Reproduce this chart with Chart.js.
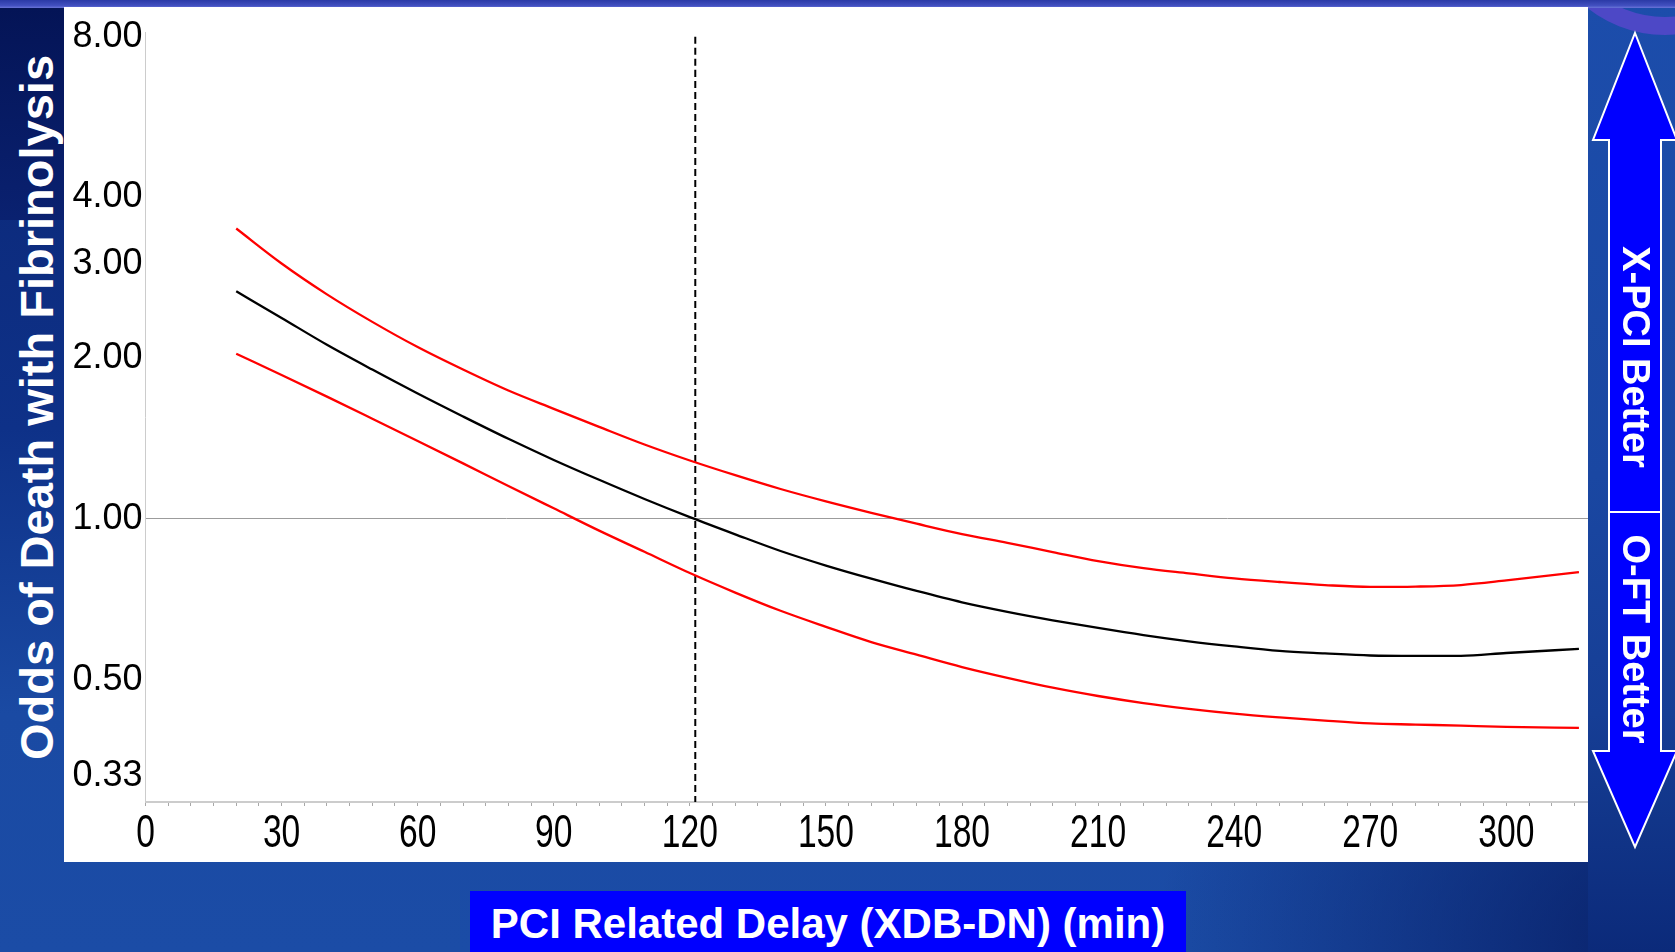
<!DOCTYPE html>
<html>
<head>
<meta charset="utf-8">
<script src="https://cdn.jsdelivr.net/npm/chart.js@4.4.1/dist/chart.umd.min.js"></script>
<style>
html,body{margin:0;padding:0;width:1675px;height:952px;overflow:hidden;}
body{position:relative;font-family:"Liberation Sans",Arial,sans-serif;
  background:
    radial-gradient(ellipse 520px 420px at 1675px 952px, rgba(5,25,95,0.85), rgba(5,25,95,0) 100%),
    linear-gradient(180deg,#0b2674 0%,#0e3188 45%,#1a4aa3 75%,#1b4ca6 100%);}
#topstrip{position:absolute;left:0;top:0;width:1675px;height:8px;
  background:linear-gradient(180deg,#2b3aa6 0%,#4250c0 70%,#6a74d8 100%);}
#tl{position:absolute;left:0;top:8px;width:64px;height:212px;background:linear-gradient(180deg,#041456,#0a2170);}
#rightcol{position:absolute;left:1588px;top:0;width:87px;height:952px;
  background:linear-gradient(180deg,#1c4dab 0%,#1a47a2 50%,#163e95 75%,#0b2a7a 100%);}
#ring{position:absolute;left:1540px;top:-215px;width:250px;height:250px;border-radius:50%;
  border:18px solid #4d48c6;box-sizing:border-box;}
#panel{position:absolute;left:64px;top:7px;width:1524px;height:855px;background:#ffffff;}
#panel canvas{position:absolute;left:0;top:0;}
#ytitle{position:absolute;left:-313px;top:385px;width:700px;height:50px;line-height:50px;
  text-align:center;color:#fff;font-weight:bold;font-size:47px;white-space:nowrap;
  transform:rotate(-90deg);transform-origin:50% 50%;}
#xtitle{position:absolute;left:470px;top:891px;width:716px;height:61px;background:#0000ff;}
#xtitle div{position:absolute;left:0;top:0;width:716px;line-height:66px;text-align:center;
  color:#fff;font-weight:bold;font-size:42px;white-space:nowrap;}
#arrow{position:absolute;left:0;top:0;}
.atext{position:absolute;width:260px;height:44px;line-height:44px;text-align:center;color:#fff;
  font-weight:bold;font-size:38px;white-space:nowrap;transform:rotate(90deg);transform-origin:50% 50%;}
</style>
</head>
<body>
<div id="rightcol"></div>
<div id="ring"></div>
<div id="topstrip"></div>
<div id="tl"></div>
<div id="panel"><canvas id="c" width="1524" height="855"></canvas></div>
<div id="ytitle">Odds of Death with Fibrinolysis</div>
<div id="xtitle"><div>PCI Related Delay (XDB-DN) (min)</div></div>
<svg id="arrow" width="1675" height="952">
  <polygon points="1635,33 1677,140 1661,140 1661,751 1677,751 1635,847 1593,751 1609,751 1609,140 1593,140"
    fill="#0000ff" stroke="#ffffff" stroke-width="2" stroke-linejoin="miter"/>
  <line x1="1609" y1="512" x2="1661" y2="512" stroke="#ffffff" stroke-width="2"/>
</svg>
<div class="atext" style="left:1506px;top:335px;">X-PCI Better</div>
<div class="atext" style="left:1506px;top:617px;">O-FT Better</div>

<script>
// ---- data ----
const delay      = [20, 30, 40, 50, 60, 70, 80, 90, 100, 110, 120, 130, 140, 150, 160, 170, 180, 190, 200, 210, 220, 230, 240, 250, 260, 270, 280, 290, 300, 316];
const oddsRatio  = [2.67, 2.38, 2.12, 1.905, 1.718, 1.556, 1.413, 1.29, 1.184, 1.09, 1.008, 0.936, 0.871, 0.818, 0.773, 0.733, 0.698, 0.670, 0.646, 0.625, 0.606, 0.590, 0.577, 0.566, 0.560, 0.555, 0.554, 0.554, 0.561, 0.571];
const upperCI    = [3.50, 3.01, 2.635, 2.34, 2.099, 1.905, 1.74, 1.608, 1.488, 1.379, 1.287, 1.208, 1.138, 1.079, 1.027, 0.980, 0.937, 0.902, 0.867, 0.834, 0.809, 0.791, 0.774, 0.762, 0.752, 0.746, 0.747, 0.752, 0.767, 0.795];
const lowerCI    = [2.04, 1.861, 1.695, 1.541, 1.400, 1.271, 1.153, 1.047, 0.951, 0.868, 0.792, 0.728, 0.673, 0.628, 0.588, 0.557, 0.528, 0.504, 0.483, 0.466, 0.452, 0.441, 0.432, 0.425, 0.419, 0.414, 0.412, 0.410, 0.408, 0.406];
const refDelay   = [121.2, 121.2];
const refOdds    = [8, 0.295];
const yTickValues = [0.33, 0.5, 1, 2, 3, 4, 8];
const xTickLabels = [0, 30, 60, 90, 120, 150, 180, 210, 240, 270, 300];
const xMinorStep = 5;
const xLabelCondense = 0.73;

const pts = (xs, ys) => xs.map((x, i) => ({x: x, y: ys[i]}));

// draws the x tick labels (still Chart.js text) horizontally condensed, as in the original
const condenseXLabels = {
  id: 'condenseXLabels',
  beforeDraw(chart) {
    const sc = chart.scales.x;
    if (!sc || sc._condensed) return;
    sc._condensed = true;
    const orig = sc.drawLabels;
    sc.drawLabels = function (area) {
      const ctx = this.ctx;
      const proto = Object.getPrototypeOf(ctx).fillText;
      ctx.fillText = function (t, x, y, mw) {
        this.save();
        this.scale(xLabelCondense, 1);
        if (mw === undefined) proto.call(this, t, x / xLabelCondense, y);
        else proto.call(this, t, x / xLabelCondense, y, mw / xLabelCondense);
        this.restore();
      };
      try { orig.call(this, area); } finally { delete ctx.fillText; }
    };
  }
};

new Chart(document.getElementById('c'), {
  type: 'line',
  data: {
    datasets: [
      {label: 'Upper 95% CI', data: pts(delay, upperCI), borderColor: '#ff0000', borderWidth: 2.3,
       pointRadius: 0, cubicInterpolationMode: 'monotone', fill: false},
      {label: 'Odds ratio', data: pts(delay, oddsRatio), borderColor: '#000000', borderWidth: 2.3,
       pointRadius: 0, cubicInterpolationMode: 'monotone', fill: false},
      {label: 'Lower 95% CI', data: pts(delay, lowerCI), borderColor: '#ff0000', borderWidth: 2.3,
       pointRadius: 0, cubicInterpolationMode: 'monotone', fill: false},
      {label: '120 min', data: pts(refDelay, refOdds), borderColor: '#000000', borderWidth: 2,
       borderDash: [7, 4], pointRadius: 0, fill: false}
    ]
  },
  plugins: [condenseXLabels],
  options: {
    responsive: false,
    devicePixelRatio: 1,
    animation: false,
    layout: {padding: {left: 0, right: 0, top: 25, bottom: 0}},
    plugins: {legend: {display: false}, tooltip: {enabled: false}, title: {display: false}},
    scales: {
      x: {
        type: 'linear', min: 0, max: 318,
        afterBuildTicks: s => {
          const t = [];
          for (let v = 0; v <= 315; v += xMinorStep) t.push({value: v});
          s.ticks = t;
        },
        afterFit: s => { s.height = 60; },
        ticks: {
          autoSkip: false, maxRotation: 0, minRotation: 0, padding: 1,
          color: '#000000',
          font: {family: '"Liberation Sans",Arial,sans-serif', size: 46},
          callback: v => xTickLabels.includes(v) ? String(v) : ''
        },
        grid: {drawOnChartArea: false, drawTicks: true, tickLength: 4, tickColor: '#a8a8a8', tickWidth: 1},
        border: {display: true, color: '#cccccc', width: 2}
      },
      y: {
        type: 'logarithmic', min: 0.295, max: 8.17,
        afterBuildTicks: s => { s.ticks = yTickValues.map(v => ({value: v})); },
        afterFit: s => { s.width = 81.5; },
        ticks: {
          autoSkip: false, padding: 3, color: '#000000',
          font: {family: '"Liberation Sans",Arial,sans-serif', size: 36},
          callback: v => Number(v).toFixed(2)
        },
        grid: {
          drawTicks: false, lineWidth: 1,
          color: c => (c.tick && c.tick.value === 1) ? '#9c9c9c' : 'rgba(0,0,0,0)'
        },
        border: {display: true, color: '#cccccc', width: 1}
      }
    }
  }
});
</script>
</body>
</html>
